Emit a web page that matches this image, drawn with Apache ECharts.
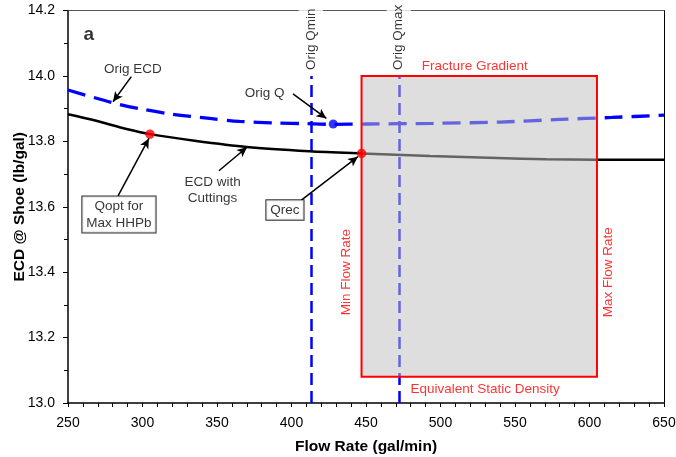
<!DOCTYPE html>
<html>
<head>
<meta charset="utf-8">
<script src="https://cdn.jsdelivr.net/npm/echarts@6/dist/echarts.min.js"></script>
<style>html,body{margin:0;padding:0;background:#fff}#c{width:676px;height:457px}</style>
</head>
<body>
<div id="c"></div>
<script>
// ---- data ----
const xTicks = [250, 300, 350, 400, 450, 500, 550, 600, 650];
const yTicks = [13.0, 13.2, 13.4, 13.6, 13.8, 14.0, 14.2];
const flowOrig = [250, 280, 300, 320, 345, 365, 390, 410, 428, 450, 495, 540, 580, 615, 650];
const ecdOrig  = [13.957, 13.918, 13.898, 13.883, 13.870, 13.861, 13.856, 13.854, 13.852, 13.853, 13.855, 13.859, 13.867, 13.873, 13.880];
const flowCut  = [250, 267, 290, 305, 335, 370, 412, 447, 493, 538, 571, 604, 650];
const ecdCut   = [13.883, 13.865, 13.837, 13.822, 13.802, 13.783, 13.770, 13.763, 13.755, 13.749, 13.745, 13.744, 13.744];
const origQ = [428, 13.853];
const qopt = [305, 13.822];
const qrec = [447, 13.763];
const origQmin = 413;
const origQmax = 472;
const minFlow = 447;
const maxFlow = 605;
const fractureGradient = 14.0;
const staticDensity = 13.08;
// annotation texts anchored in data units
const notes = [
  {text: 'a', at: [264, 14.125], kind: 'bold'},
  {text: 'Orig ECD', at: [293.5, 14.020]},
  {text: 'Orig Q', at: [382, 13.947]},
  {text: 'ECD with\nCuttings', at: [347, 13.650]},
  {text: 'Qopt for\nMax HHPb', at: [284.2, 13.576], kind: 'box'},
  {text: 'Qrec', at: [395.6, 13.590], kind: 'box'},
  {text: 'Fracture Gradient', at: [523, 14.0], kind: 'redTop'},
  {text: 'Equivalent Static Density', at: [530, 13.08], kind: 'redBottom'},
  {text: 'Min Flow Rate', at: [437, 13.40], kind: 'redVert'},
  {text: 'Max Flow Rate', at: [612.4, 13.40], kind: 'redVert'},
  {text: 'Orig Qmin', at: [413, 14.012], kind: 'vertLabel'},
  {text: 'Orig Qmax', at: [472, 14.012], kind: 'vertLabel'}
];
const arrows = [
  [[292.5, 13.998], [280.2, 13.921]],
  [[401, 13.945], [423.4, 13.870]],
  [[351.3, 13.710], [370.1, 13.782]],
  [[283.6, 13.633], [304.3, 13.809]],
  [[406.6, 13.620], [444.6, 13.753]]
];

const FONT = '"Liberation Sans", Arial, sans-serif';
const zip = (a, b) => a.map((v, i) => [v, b[i]]);

function noteLabel(n) {
  const base = {show: true, position: 'inside', color: '#000', fontSize: 13.5, fontFamily: FONT, formatter: n.text, lineHeight: 16.5};
  if (n.kind === 'bold') Object.assign(base, {fontSize: 19, fontWeight: 'bold'});
  if (n.kind === 'box') Object.assign(base, {backgroundColor: '#fff', borderColor: '#000', borderWidth: 1, padding: [2, 4, 1, 4]});
  if (n.kind === 'redTop') Object.assign(base, {color: '#ff0000', verticalAlign: 'bottom', offset: [0, -1], position: [0, 0], align: 'center'});
  if (n.kind === 'redBottom') Object.assign(base, {color: '#ff0000', verticalAlign: 'top', offset: [0, 4], position: [0, 0], align: 'center'});
  if (n.kind === 'redVert') Object.assign(base, {color: '#ff0000', rotate: 90});
  if (n.kind === 'vertLabel') Object.assign(base, {rotate: 90, align: 'left', verticalAlign: 'middle', position: [0, 0], backgroundColor: '#fff', padding: [4, 3, 4, 2]});
  return base;
}

const chart = echarts.init(document.getElementById('c'), null, {renderer: 'canvas'});
chart.setOption({
  animation: false,
  backgroundColor: '#fff',
  textStyle: {fontFamily: FONT},
  grid: {left: 68, right: 12, top: 10.5, bottom: 54, containLabel: false, outerBoundsMode: 'none'},
  xAxis: [{
    type: 'value', min: xTicks[0], max: xTicks[xTicks.length - 1], interval: xTicks[1] - xTicks[0],
    name: 'Flow Rate (gal/min)', nameLocation: 'middle', nameGap: 36, nameMoveOverlap: false,
    nameTextStyle: {fontSize: 15.5, fontWeight: 'bold', color: '#000', fontFamily: FONT},
    axisLine: {lineStyle: {color: '#000', width: 1.5}},
    axisTick: {show: true, length: 4, lineStyle: {color: '#000', width: 1}},
    minorTick: {show: true, splitNumber: 5, length: 4, lineStyle: {color: '#000', width: 1}},
    axisLabel: {fontSize: 14, color: '#000', margin: 13, fontFamily: FONT},
    splitLine: {show: false}
  }, {
    type: 'value', position: 'top', min: xTicks[0], max: xTicks[xTicks.length - 1],
    axisLine: {show: true, lineStyle: {color: '#555', width: 1}},
    axisTick: {show: false}, axisLabel: {show: false}, splitLine: {show: false}
  }],
  yAxis: [{
    type: 'value', min: yTicks[0], max: yTicks[yTicks.length - 1], interval: 0.2,
    name: 'ECD @ Shoe (lb/gal)', nameLocation: 'middle', nameGap: 40, nameRotate: 90, nameMoveOverlap: false,
    nameTextStyle: {fontSize: 15.5, fontWeight: 'bold', color: '#000', fontFamily: FONT},
    axisLine: {show: true, lineStyle: {color: '#000', width: 1.5}},
    axisTick: {show: true, length: 5, lineStyle: {color: '#000', width: 1}},
    minorTick: {show: true, splitNumber: 2, length: 4, lineStyle: {color: '#000', width: 1}},
    axisLabel: {fontSize: 14, color: '#000', margin: 13, fontFamily: FONT, formatter: v => v.toFixed(1)},
    splitLine: {show: false}
  }, {
    type: 'value', position: 'right', min: yTicks[0], max: yTicks[yTicks.length - 1],
    axisLine: {show: true, lineStyle: {color: '#000', width: 1}},
    axisTick: {show: false}, axisLabel: {show: false}, splitLine: {show: false}
  }],
  series: [
    {
      name: 'Orig ECD', type: 'line', z: 2, smooth: 0.3, showSymbol: false, symbol: 'none',
      data: zip(flowOrig, ecdOrig),
      lineStyle: {color: '#0000ff', width: 3.3, type: [18, 9]}
    },
    {
      name: 'ECD with Cuttings', type: 'line', z: 2, smooth: 0.3, showSymbol: false, symbol: 'none',
      data: zip(flowCut, ecdCut),
      lineStyle: {color: '#000', width: 2.5}
    },
    {
      name: 'Orig Q limits', type: 'line', z: 2, data: [],
      markLine: {
        z: 2, silent: true, symbol: ['none', 'none'], label: {show: false},
        lineStyle: {color: '#0000ff', width: 2.5, type: [12, 6]},
        data: [
          [{coord: [origQmin, yTicks[0]]}, {coord: [origQmin, fractureGradient]}],
          [{coord: [origQmax, yTicks[0]]}, {coord: [origQmax, fractureGradient]}]
        ]
      }
    },
    {
      name: 'Operating window', type: 'line', z: 3, data: [],
      markArea: {
        z: 3, silent: true, label: {show: false},
        itemStyle: {color: 'rgba(192,192,192,0.52)', borderColor: '#ff0000', borderWidth: 2},
        data: [[{coord: [minFlow, fractureGradient]}, {coord: [maxFlow, staticDensity]}]]
      }
    },
    {
      name: 'Red points', type: 'scatter', z: 4, symbolSize: 9.5,
      itemStyle: {color: '#ff0000'},
      data: [qopt, qrec]
    },
    {
      name: 'Orig Q point', type: 'scatter', z: 4, symbolSize: 9,
      itemStyle: {color: '#0000ff'},
      data: [origQ]
    },
    {
      name: 'Notes', type: 'scatter', z: 6, symbolSize: 0, silent: true,
      data: notes.map(n => ({value: n.at, label: noteLabel(n)})),
      markLine: {
        z: 5, silent: true, symbol: ['none', 'arrow'], symbolSize: [7, 10], label: {show: false},
        lineStyle: {color: '#000', width: 1.5, type: 'solid'},
        data: arrows.map(a => [{coord: a[0]}, {coord: a[1]}])
      }
    }
  ]
});
</script>
</body>
</html>
